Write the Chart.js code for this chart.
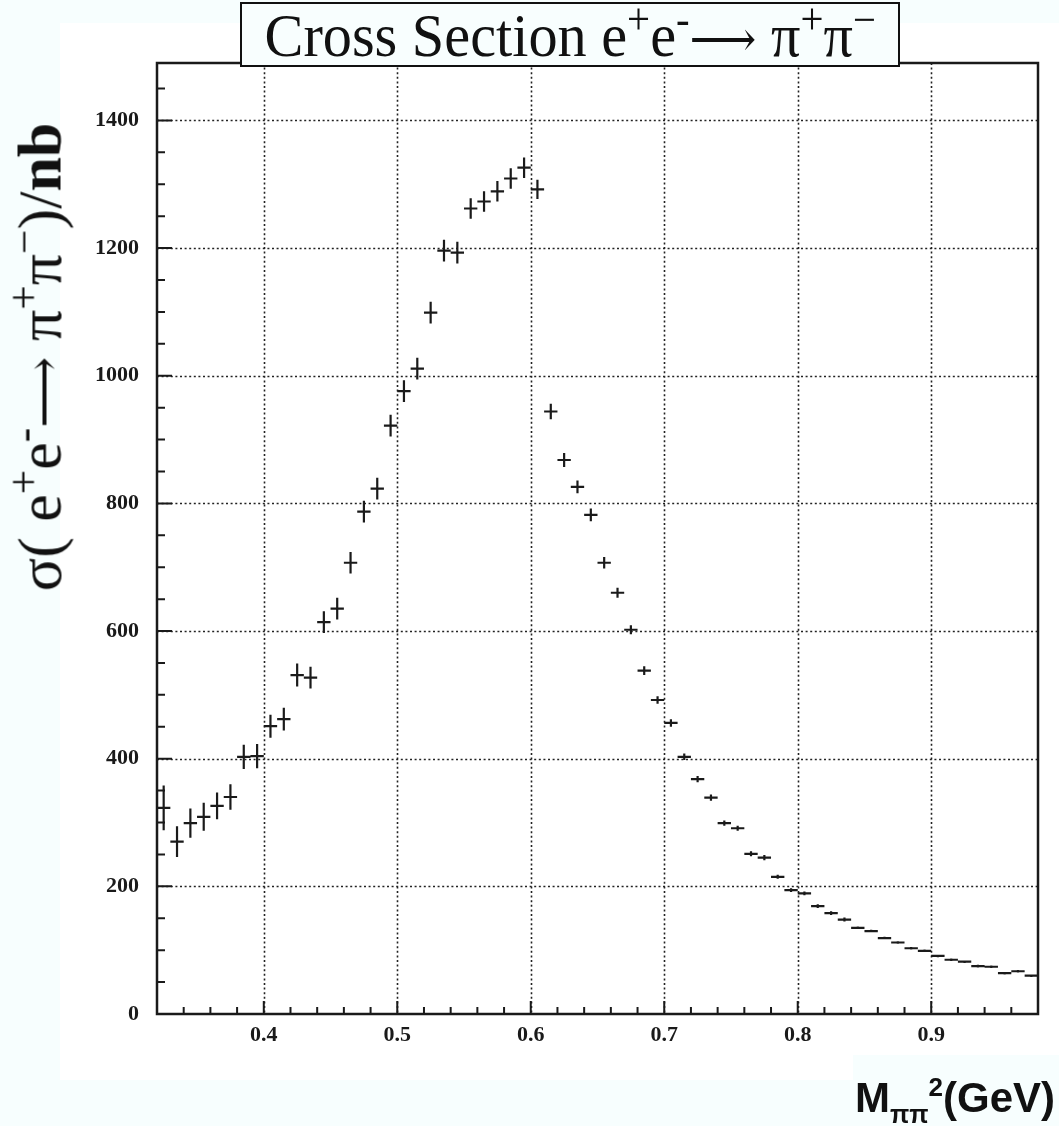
<!DOCTYPE html>
<html>
<head>
<meta charset="utf-8">
<script src="https://cdn.jsdelivr.net/npm/chart.js@4.4.0/dist/chart.umd.min.js"></script>
<style>
    body { margin: 0; background: #f7fefe; }
    #page { position: relative; width: 1059px; height: 1126px; overflow: hidden; }
    #sheet { position: absolute; left: 60px; top: 23px; width: 999px; height: 1057px; background: #fff; }
    #xBox { position: absolute; left: 853px; top: 1055px; width: 206px; height: 71px; background: #f7fefe; }
    canvas { position: absolute; left: 0; top: 0; }
    #title {
        position: absolute; left: 240px; top: 2px; width: 660px; height: 65px;
        border: 2px solid #111; background: #f8fefe; box-sizing: border-box;
        font-family: "Liberation Serif", "Times New Roman", serif; font-size: 62px;
        line-height: 62px; text-align: center; color: #111; white-space: nowrap;
    }
    #title .inner { display: inline-block; transform: scaleX(0.94); transform-origin: center; }
    #yTitle {
        position: absolute; left: 40px; top: 357px; transform: translate(-50%, -50%) rotate(-90deg);
        font-family: "Liberation Serif", "Times New Roman", serif; font-size: 62px;
        color: #111; white-space: nowrap;
    }
    #xTitle {
        position: absolute; right: 4px; top: 1074px;
        font-family: "Liberation Sans", Arial, sans-serif; font-weight: bold; font-size: 42px;
        color: #111; white-space: nowrap;
    }
    .arr { font-family: "DejaVu Serif", "DejaVu Sans", serif; font-size: 0.8em; }
    sup { font-size: 0.7em; vertical-align: 0.5em; line-height: 0; }
    #xTitle sub { font-size: 0.6em; vertical-align: -0.45em; line-height: 0; }
    #xTitle sup { font-size: 0.62em; vertical-align: 0.6em; }
</style>
</head>
<body>
<div id="page">
    <div id="sheet"></div>
    <div id="xBox"></div>
    <canvas id="xsecCanvas" width="1059" height="1126"></canvas>
    <div id="title"><span class="inner">Cross Section e<sup>+</sup>e<sup>-</sup><span class="arr">&#x27F6;</span> &pi;<sup>+</sup>&pi;<sup>&minus;</sup></span></div>
    <div id="yTitle">&sigma;( e<sup>+</sup>e<sup>-</sup><span class="arr">&#x27F6;</span> &pi;<sup>+</sup>&pi;<sup>&minus;</sup>)/<b>nb</b></div>
    <div id="xTitle">M<sub>&pi;&pi;</sub><sup>2</sup>(GeV)</div>
</div>
<script>
// --------------------------------------
// 1. Data
// --------------------------------------
const massSq = [
    0.325, 0.335, 0.345, 0.355, 0.365, 0.375, 0.385, 0.395, 0.405, 0.415,
    0.425, 0.435, 0.445, 0.455, 0.465, 0.475, 0.485, 0.495, 0.505, 0.515,
    0.525, 0.535, 0.545, 0.555, 0.565, 0.575, 0.585, 0.595, 0.605, 0.615,
    0.625, 0.635, 0.645, 0.655, 0.665, 0.675, 0.685, 0.695, 0.705, 0.715,
    0.725, 0.735, 0.745, 0.755, 0.765, 0.775, 0.785, 0.795, 0.805, 0.815,
    0.825, 0.835, 0.845, 0.855, 0.865, 0.875, 0.885, 0.895, 0.905, 0.915,
    0.925, 0.935, 0.945, 0.955, 0.965, 0.975
];
const crossSection = [
    323, 270, 299, 309, 326, 340, 403, 404, 451, 462,
    531, 527, 614, 635, 707, 787, 823, 922, 976, 1011,
    1099, 1196, 1193, 1262, 1273, 1289, 1309, 1326, 1292, 944,
    868, 826, 782, 707, 660, 602, 538, 492, 456, 403,
    368, 339, 299, 291, 251, 245, 215, 194, 189, 169,
    158, 148, 135, 130, 119, 112, 103, 99, 91, 85,
    82, 75, 74, 64, 67, 60
];
const crossSectionErr = [
    35, 24, 23, 22, 21, 20, 19, 19, 18, 18,
    18, 17, 17, 17, 17, 17, 17, 17, 17, 17,
    17, 17, 17, 16, 16, 16, 16, 16, 15, 12,
    11, 10, 10, 9, 8, 7, 7, 6, 6, 5,
    5, 5, 4, 4, 4, 4, 3, 3, 3, 3,
    3, 3, 2, 2, 2, 2, 2, 2, 2, 2,
    2, 2, 2, 2, 2, 2
];
const binHalfWidth = 0.005;

const xMajorTicks = [0.4, 0.5, 0.6, 0.7, 0.8, 0.9];
const xMinorTicks = [0.34, 0.36, 0.38, 0.42, 0.44, 0.46, 0.48, 0.52, 0.54, 0.56, 0.58,
    0.62, 0.64, 0.66, 0.68, 0.72, 0.74, 0.76, 0.78, 0.82, 0.84, 0.86, 0.88, 0.92, 0.94, 0.96];
const yMajorTicks = [0, 200, 400, 600, 800, 1000, 1200, 1400];
const yMinorTicks = [50, 100, 150, 250, 300, 350, 450, 500, 550, 650, 700, 750, 850, 900, 950,
    1050, 1100, 1150, 1250, 1300, 1350, 1450];

const X_MIN = 0.32, X_MAX = 0.98, Y_MIN = 0, Y_MAX = 1490;
const INK = '#1a1a1a';

// --------------------------------------
// 2. Plugins: ROOT-style frame, grid, ticks and error bars
// --------------------------------------
const rootFramePlugin = {
    id: 'rootFrame',
    beforeDatasetsDraw(chart) {
        const { ctx, chartArea: a, scales: { x, y } } = chart;
        ctx.save();
        // dotted grid at the major ticks
        ctx.strokeStyle = '#222';
        ctx.lineWidth = 1.6;
        ctx.setLineDash([2, 2.6]);
        ctx.beginPath();
        xMajorTicks.forEach(v => {
            const px = Math.round(x.getPixelForValue(v)) + 0.5;
            ctx.moveTo(px, a.top); ctx.lineTo(px, a.bottom);
        });
        yMajorTicks.forEach(v => {
            if (v === Y_MIN) return;
            const py = Math.round(y.getPixelForValue(v)) + 0.5;
            ctx.moveTo(a.left, py); ctx.lineTo(a.right, py);
        });
        ctx.stroke();
        ctx.setLineDash([]);

        // tick marks, drawn inward
        ctx.strokeStyle = INK;
        ctx.lineWidth = 2;
        ctx.beginPath();
        xMajorTicks.forEach(v => { const px = x.getPixelForValue(v); ctx.moveTo(px, a.bottom); ctx.lineTo(px, a.bottom - 13); });
        xMinorTicks.forEach(v => { const px = x.getPixelForValue(v); ctx.moveTo(px, a.bottom); ctx.lineTo(px, a.bottom - 7); });
        yMajorTicks.forEach(v => { const py = y.getPixelForValue(v); ctx.moveTo(a.left, py); ctx.lineTo(a.left + 15, py); });
        yMinorTicks.forEach(v => { const py = y.getPixelForValue(v); ctx.moveTo(a.left, py); ctx.lineTo(a.left + 8, py); });
        ctx.stroke();

        // frame
        ctx.lineWidth = 2.5;
        ctx.strokeRect(a.left, a.top, a.right - a.left, a.bottom - a.top);
        ctx.restore();
    },
    afterDatasetsDraw(chart) {
        const { ctx, scales: { x, y } } = chart;
        ctx.save();
        ctx.strokeStyle = INK;
        ctx.lineWidth = 2.2;
        ctx.beginPath();
        massSq.forEach((m, i) => {
            const px = x.getPixelForValue(m), py = y.getPixelForValue(crossSection[i]);
            ctx.moveTo(x.getPixelForValue(m - binHalfWidth), py);
            ctx.lineTo(x.getPixelForValue(m + binHalfWidth), py);
            ctx.moveTo(px, y.getPixelForValue(crossSection[i] + crossSectionErr[i]));
            ctx.lineTo(px, y.getPixelForValue(crossSection[i] - crossSectionErr[i]));
        });
        ctx.stroke();
        ctx.restore();
    }
};

// --------------------------------------
// 3. Chart
// --------------------------------------
const tickFont = { family: '"Liberation Serif", "Times New Roman", serif', size: 22, weight: 'bold' };

const xsecChart = new Chart(document.getElementById('xsecCanvas').getContext('2d'), {
    type: 'scatter',
    data: {
        datasets: [{
            label: 'sigma',
            data: massSq.map((m, i) => ({ x: m, y: crossSection[i] })),
            pointRadius: 0,
            showLine: false
        }]
    },
    options: {
        responsive: false,
        animation: false,
        layout: { padding: { left: 0, top: 63, right: 21, bottom: 0 } },
        plugins: { legend: { display: false }, tooltip: { enabled: false } },
        scales: {
            x: {
                type: 'linear', min: X_MIN, max: X_MAX,
                afterBuildTicks: s => { s.ticks = xMajorTicks.map(v => ({ value: v })); },
                afterFit: s => { s.height = 112; },
                grid: { display: false, drawTicks: false },
                border: { display: false },
                ticks: { color: INK, font: tickFont, padding: 8, callback: v => v.toFixed(1) }
            },
            y: {
                type: 'linear', min: Y_MIN, max: Y_MAX,
                afterBuildTicks: s => { s.ticks = yMajorTicks.map(v => ({ value: v })); },
                afterFit: s => { s.width = 157; },
                grid: { display: false, drawTicks: false },
                border: { display: false },
                ticks: { color: INK, font: tickFont, padding: 18, callback: v => String(v) }
            }
        }
    },
    plugins: [rootFramePlugin]
});
</script>
</body>
</html>
